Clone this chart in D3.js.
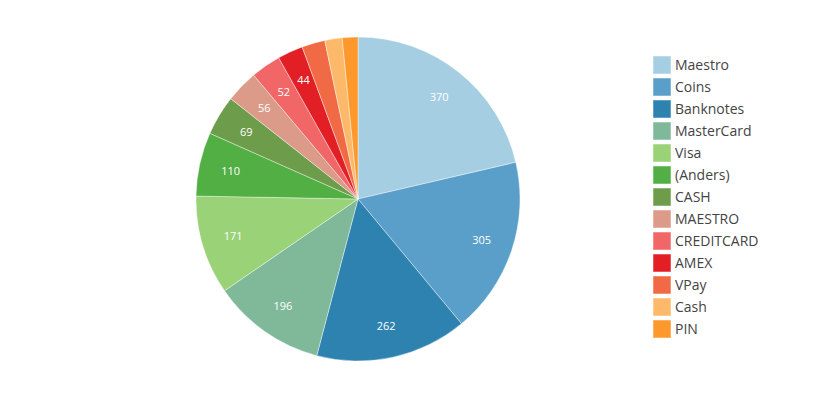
<!DOCTYPE html>
<html>
<head>
<meta charset="utf-8">
<script src="https://cdn.jsdelivr.net/npm/d3@7"></script>
<style>
  body { margin: 0; background: #fff; }
  text { font-family: "Open Sans", "DejaVu Sans", sans-serif; }
</style>
</head>
<body>
<div id="chart"></div>
<script>
const categories = ['Maestro', 'Coins', 'Banknotes', 'MasterCard', 'Visa', '(Anders)', 'CASH',
  'MAESTRO', 'CREDITCARD', 'AMEX', 'VPay', 'Cash', 'PIN'];
const values = [370, 305, 262, 196, 171, 110, 69, 56, 52, 44, 40, 30, 27];
const colors = ['#a6cee3', '#5a9fc9', '#2e82b0', '#7fb99a', '#99d277', '#52af44', '#6d9c4b',
  '#dc9b88', '#f16667', '#e31f26', '#f06b45', '#fdb96a', '#fd982d'];
const showLabel = [true, true, true, true, true, true, true, true, true, true, false, false, false];

const width = 814, height = 398;
const cx = 358, cy = 199, radius = 162;

const svg = d3.select('#chart').append('svg')
  .attr('width', width)
  .attr('height', height);

const data = categories.map((c, i) => ({ name: c, value: values[i], color: colors[i], label: showLabel[i] }));

const pie = d3.pie().value(d => d.value).sort(null);
const arc = d3.arc().innerRadius(0).outerRadius(radius);
const labelArc = d3.arc().innerRadius(radius * 0.805).outerRadius(radius * 0.805);

const g = svg.append('g').attr('transform', `translate(${cx},${cy})`);

const slices = pie(data);

g.selectAll('path')
  .data(slices)
  .enter().append('path')
  .attr('d', arc)
  .attr('fill', d => d.data.color)
  .attr('stroke', '#fff')
  .attr('stroke-width', 0.4);

g.selectAll('text.lbl')
  .data(slices.filter(d => d.data.label))
  .enter().append('text')
  .attr('class', 'lbl')
  .attr('transform', d => `translate(${labelArc.centroid(d)})`)
  .attr('text-anchor', 'middle')
  .attr('dy', '0.35em')
  .style('font-size', '11px')
  .style('fill', '#fff')
  .text(d => d.data.value);

// legend
const legend = svg.append('g').attr('transform', 'translate(653,56)');
const row = legend.selectAll('g')
  .data(data)
  .enter().append('g')
  .attr('transform', (d, i) => `translate(0,${i * 22})`);

row.append('rect')
  .attr('width', 18)
  .attr('height', 18)
  .attr('fill', d => d.color)
  .attr('stroke', '#fff')
  .attr('stroke-opacity', 0.5)
  .attr('stroke-width', 1);

row.append('text')
  .attr('x', 22)
  .attr('y', 9)
  .attr('dy', '0.36em')
  .style('font-size', '14px')
  .style('fill', '#444')
  .text(d => d.name);
</script>
</body>
</html>
